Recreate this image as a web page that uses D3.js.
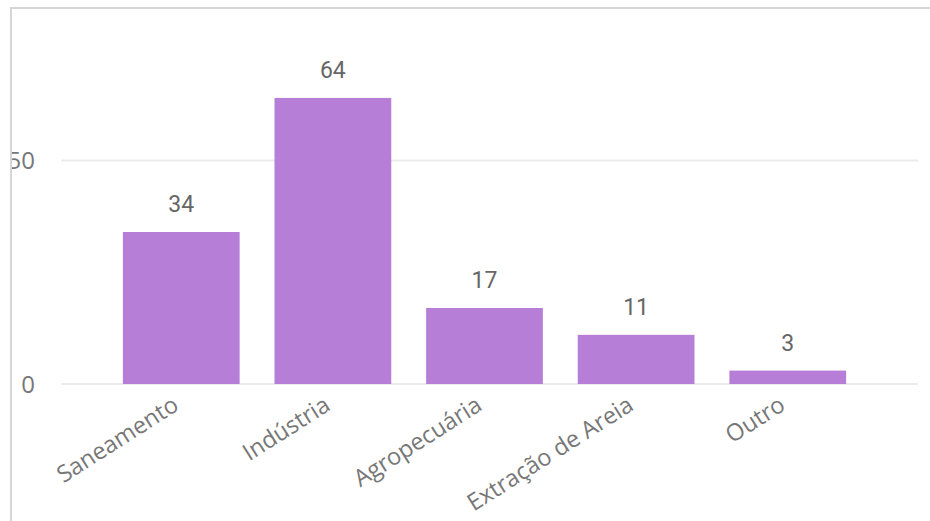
<!DOCTYPE html>
<html>
<head>
<meta charset="utf-8">
<script src="https://cdn.jsdelivr.net/npm/d3@7"></script>
<style>
  html, body { margin: 0; padding: 0; background: #fff; }
  svg { display: block; }
</style>
</head>
<body>
<svg id="chart" width="930" height="521"></svg>
<script>
// Licences by sector
const categories = ["Saneamento", "Indústria", "Agropecuária", "Extração de Areia", "Outro"];
const values = [34, 64, 17, 11, 3];
const yTicks = [0, 50];

const W = 930, H = 521;
const svg = d3.select("#chart");

const barColor = "#B67ED7";
const gridColor = "#EBEBEB";
const frameColor = "#D6D6D6";

const x = d3.scaleBand()
  .domain(categories)
  .range([88, 881])
  .paddingInner(0.23)
  .paddingOuter(0.23);

const y = d3.scaleLinear()
  .domain([0, 50])
  .range([384, 160.5]);

// clip so that content stops at the panel frame
svg.append("clipPath").attr("id", "panel")
  .append("rect").attr("x", 12).attr("y", 9).attr("width", W - 12).attr("height", H - 9);

const g = svg.append("g").attr("clip-path", "url(#panel)");

// gridlines
g.append("g")
  .selectAll("line")
  .data(yTicks)
  .join("line")
  .attr("x1", 61).attr("x2", 918)
  .attr("y1", d => y(d)).attr("y2", d => y(d))
  .attr("stroke", gridColor)
  .attr("stroke-width", 2);

// y tick labels
const yAxis = d3.axisLeft(y).tickValues(yTicks).tickSize(0).tickPadding(0);
const yg = g.append("g").attr("transform", "translate(35,0)").call(yAxis);
yg.select(".domain").remove();
yg.selectAll("text")
  .attr("fill", "#777")
  .attr("font-family", "'Open Sans', 'Noto Sans', sans-serif")
  .attr("font-size", 24)
  .attr("dy", "0.34em");

// bars
g.append("g")
  .selectAll("rect")
  .data(categories)
  .join("rect")
  .attr("x", d => x(d))
  .attr("width", x.bandwidth())
  .attr("y", (d, i) => y(values[i]))
  .attr("height", (d, i) => y(0) - y(values[i]))
  .attr("fill", barColor);

// value labels
g.append("g")
  .selectAll("text")
  .data(categories)
  .join("text")
  .attr("x", d => x(d) + x.bandwidth() / 2)
  .attr("y", (d, i) => y(values[i]) - 20)
  .attr("text-anchor", "middle")
  .attr("fill", "#666")
  .attr("font-family", "Roboto, sans-serif")
  .attr("font-size", 23)
  .text((d, i) => values[i]);

// category labels
const xAxis = d3.axisBottom(x).tickSize(0).tickPadding(0);
const xg = g.append("g").attr("transform", "translate(0,384)").call(xAxis);
xg.select(".domain").remove();
xg.selectAll(".tick text")
  .attr("fill", "#777")
  .attr("font-family", "'Open Sans', 'Noto Sans', sans-serif")
  .attr("font-size", 23.5)
  .attr("text-anchor", "end")
  .attr("x", 0)
  .attr("y", 0)
  .attr("dy", 0)
  .attr("transform", "translate(-1,25) rotate(-32.5)");

// panel frame
svg.append("line")
  .attr("x1", 10).attr("x2", W).attr("y1", 8).attr("y2", 8)
  .attr("stroke", frameColor).attr("stroke-width", 2);
svg.append("line")
  .attr("x1", 11).attr("x2", 11).attr("y1", 7).attr("y2", H)
  .attr("stroke", frameColor).attr("stroke-width", 2);
</script>
</body>
</html>
